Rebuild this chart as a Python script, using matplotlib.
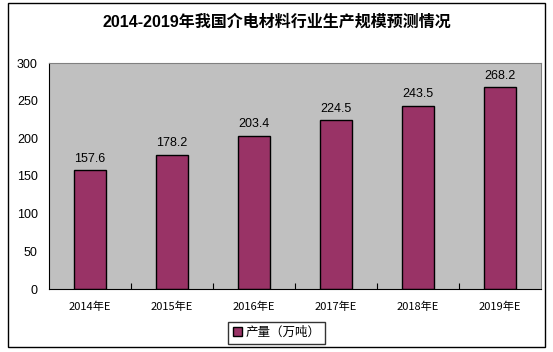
import matplotlib.pyplot as plt
from matplotlib.patches import Rectangle

plt.rcParams['font.family'] = ['Liberation Sans', 'Noto Sans CJK SC', 'DejaVu Sans']

years = ['2014年E', '2015年E', '2016年E', '2017年E', '2018年E', '2019年E']
output = [157.6, 178.2, 203.4, 224.5, 243.5, 268.2]
yticks = [0, 50, 100, 150, 200, 250, 300]

W, H = 553, 352
fig = plt.figure(figsize=(W / 100, H / 100), dpi=100)
fig.patches.append(Rectangle((8 / W, 5 / H), 537 / W, 344 / H, transform=fig.transFigure,
                             fill=False, edgecolor='black', linewidth=1))

ax = fig.add_axes([49 / W, 63 / H, 492 / W, 226 / H])
ax.set_facecolor('#C0C0C0')

x = range(len(years))
bars = ax.bar(x, output, width=0.4, color='#993366', edgecolor='black', linewidth=1,
              label='产量（万吨）')
for xi, v in zip(x, output):
    ax.text(xi, v + 7, f'{v}', ha='center', va='bottom', fontsize=9)

ax.set_xlim(-0.5, len(years) - 0.5)
ax.set_ylim(0, 300)
ax.set_yticks(yticks)
ax.tick_params(axis='y', length=0, labelsize=9, pad=8)
ax.set_xticks([i + 0.5 for i in range(len(years) - 1)])
ax.set_xticklabels([])
ax.set_xticks(list(x), minor=True)
ax.set_xticklabels(years, minor=True, fontfamily=['Noto Sans CJK SC'], fontsize=8)
ax.tick_params(axis='x', which='major', direction='in', length=4, color='black')
ax.tick_params(axis='x', which='minor', length=0, pad=9)

for s in ['top', 'right']:
    ax.spines[s].set_color('#808080')
for s in ['left', 'bottom']:
    ax.spines[s].set_color('black')

fig.text(0.5, 0.937, '2014-2019年我国介电材料行业生产规模预测情况', ha='center', va='center',
         fontsize=11.5, fontweight='bold', fontfamily=['Liberation Sans', 'Noto Sans CJK SC'])

leg = fig.legend(handles=[bars], loc='center', bbox_to_anchor=(0.5, 0.055), fontsize=9,
                 frameon=True, fancybox=False, edgecolor='black', handlelength=0.7,
                 handleheight=0.7, handletextpad=0.3, borderpad=0.35,
                 prop={'family': ['Noto Sans CJK SC'], 'size': 9})
leg.get_frame().set_linewidth(1)

fig.savefig('out.png', dpi=100)
